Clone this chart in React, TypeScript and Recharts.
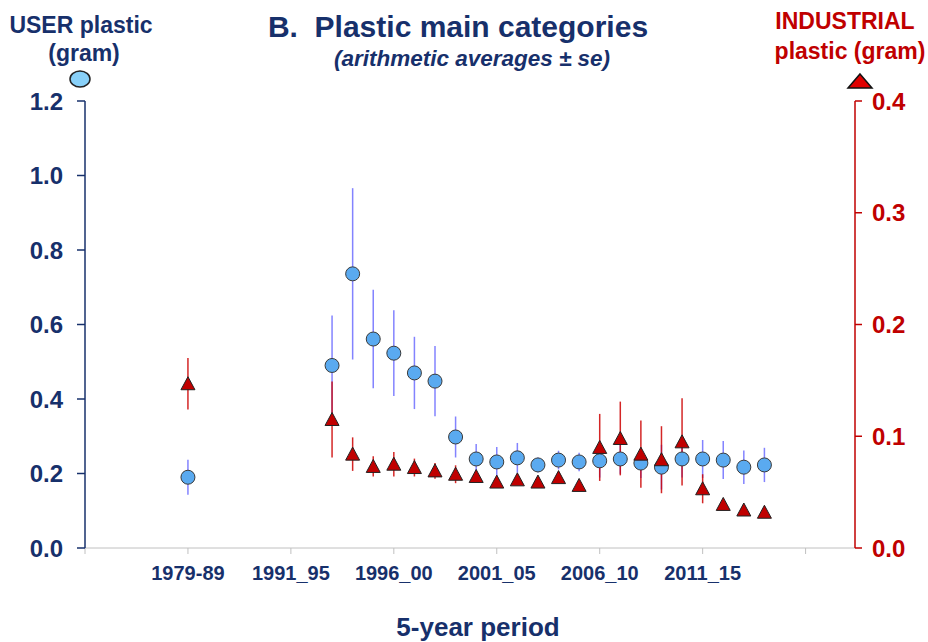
import { ScatterChart, Scatter, XAxis, YAxis, ErrorBar } from 'recharts';

// x positions: one unit per year-slot, 5 units between labelled periods
const periodTicks = [0, 5, 10, 15, 20, 25, 30, 35];
const periodLabels = ['', '1979-89', '1991_95', '1996_00', '2001_05', '2006_10', '2011_15', ''];

const periodPos = [5, 12, 13, 14, 15, 16, 17, 18, 19, 20, 21, 22, 23, 24, 25, 26, 27, 28, 29, 30, 31, 32, 33];

const userMean = [
  0.19, 0.49, 0.736, 0.561, 0.523, 0.47, 0.448, 0.298, 0.239, 0.231, 0.242, 0.223,
  0.236, 0.231, 0.234, 0.239, 0.228, 0.217, 0.239, 0.239, 0.236, 0.217, 0.223,
];
const userSe = [
  0.047, 0.134, 0.23, 0.132, 0.115, 0.097, 0.094, 0.055, 0.04, 0.04, 0.04, 0.02,
  0.025, 0.025, 0.045, 0.04, 0.04, 0.06, 0.05, 0.051, 0.051, 0.045, 0.046,
];

const industrialMean = [
  0.147, 0.115, 0.084, 0.073, 0.075, 0.072, 0.069, 0.066, 0.064, 0.059, 0.061, 0.059,
  0.063, 0.056, 0.09, 0.098, 0.084, 0.079, 0.095, 0.053, 0.039, 0.034, 0.032,
];
const industrialSe = [
  0.023, 0.034, 0.015, 0.009, 0.011, 0.008, 0.007, 0.008, 0.005, 0.004, 0.004, 0.004,
  0.005, 0.004, 0.03, 0.033, 0.03, 0.03, 0.039, 0.013, 0.004, 0.003, 0.003,
];

const leftTicks = [0, 0.2, 0.4, 0.6, 0.8, 1.0, 1.2];
const rightTicks = [0, 0.1, 0.2, 0.3, 0.4];

const NAVY = '#17306b';
const RED = '#c00000';
const FONT = 'Arial, "Liberation Sans", sans-serif';

const userData = periodPos.map((x, i) => ({ x, y: userMean[i], se: userSe[i] }));
const industrialData = periodPos.map((x, i) => ({ x, y: industrialMean[i], se: industrialSe[i] }));

const Circle = (p: any) => (
  <circle cx={p.cx} cy={p.cy} r={7} fill="#5aaaf0" stroke="#3a3a3a" strokeWidth={1} />
);

const Triangle = (p: any) => (
  <polygon
    points={`${p.cx},${p.cy - 7} ${p.cx + 7},${p.cy + 6} ${p.cx - 7},${p.cy + 6}`}
    fill={RED}
    stroke="#222"
    strokeWidth={1}
  />
);

const label = (extra: React.CSSProperties): React.CSSProperties => ({
  position: 'absolute',
  fontFamily: FONT,
  fontWeight: 'bold',
  whiteSpace: 'nowrap',
  transform: 'translate(-50%, -50%)',
  lineHeight: 1,
  ...extra,
});

export default function App() {
  return (
    <div style={{ position: 'absolute', left: 0, top: 0, width: 928, height: 642, background: '#fff' }}>
      <ScatterChart
        width={928}
        height={642}
        margin={{ top: 101, right: 3, bottom: 54, left: 5 }}
        style={{ fontFamily: FONT }}
      >
        <XAxis
          type="number"
          dataKey="x"
          domain={[0, 37.4]}
          ticks={periodTicks}
          tickFormatter={(v: number) => periodLabels[periodTicks.indexOf(v)] ?? ''}
          height={40}
          stroke="#c0c0c0"
          tickSize={6}
          tickMargin={12}
          tick={{ fill: NAVY, fontSize: 20, fontWeight: 'bold' }}
          allowDataOverflow
        />
        <YAxis
          yAxisId="left"
          type="number"
          domain={[0, 1.2]}
          ticks={leftTicks}
          tickFormatter={(v: number) => v.toFixed(1)}
          width={80}
          stroke={NAVY}
          strokeWidth={1.5}
          tickSize={8}
          tickMargin={14}
          tick={{ fill: NAVY, fontSize: 24, fontWeight: 'bold' }}
        />
        <YAxis
          yAxisId="right"
          orientation="right"
          type="number"
          domain={[0, 0.4]}
          ticks={rightTicks}
          tickFormatter={(v: number) => v.toFixed(1)}
          width={70}
          stroke={RED}
          strokeWidth={1.5}
          tickSize={7}
          tickMargin={10}
          tick={{ fill: RED, fontSize: 24, fontWeight: 'bold' }}
        />
        <Scatter data={userData} yAxisId="left" dataKey="y" shape={Circle} isAnimationActive={false}>
          <ErrorBar dataKey="se" direction="y" width={0} stroke="#5a5aff" strokeOpacity={0.75} strokeWidth={1.5} />
        </Scatter>
        <Scatter data={industrialData} yAxisId="right" dataKey="y" shape={Triangle} isAnimationActive={false}>
          <ErrorBar dataKey="se" direction="y" width={0} stroke="#cc0000" strokeOpacity={0.85} strokeWidth={1.5} />
        </Scatter>
      </ScatterChart>

      <div style={label({ left: 458, top: 27, fontSize: 30, color: NAVY })}>B.&nbsp; Plastic main categories</div>
      <div style={label({ left: 472, top: 59, fontSize: 22.5, color: NAVY, fontStyle: 'italic' })}>
        (arithmetic averages ± se)
      </div>

      <div style={label({ left: 81, top: 25, fontSize: 23, color: NAVY })}>USER plastic</div>
      <div style={label({ left: 84, top: 53, fontSize: 23, color: NAVY })}>(gram)</div>
      <svg style={{ position: 'absolute', left: 68, top: 69 }} width={24} height={20}>
        <ellipse cx={12} cy={10} rx={10} ry={8} fill="#88d0f8" stroke="#222" strokeWidth={1.5} />
      </svg>

      <div style={label({ left: 845, top: 21, fontSize: 23, color: RED })}>INDUSTRIAL</div>
      <div style={label({ left: 850, top: 51, fontSize: 23, color: RED })}>plastic (gram)</div>
      <svg style={{ position: 'absolute', left: 846, top: 72 }} width={28} height={18}>
        <polygon points="14,2 26,16 2,16" fill="#e00000" stroke="#111" strokeWidth={1.5} />
      </svg>

      <div style={label({ left: 478, top: 627, fontSize: 26, color: NAVY })}>5-year period</div>
    </div>
  );
}
